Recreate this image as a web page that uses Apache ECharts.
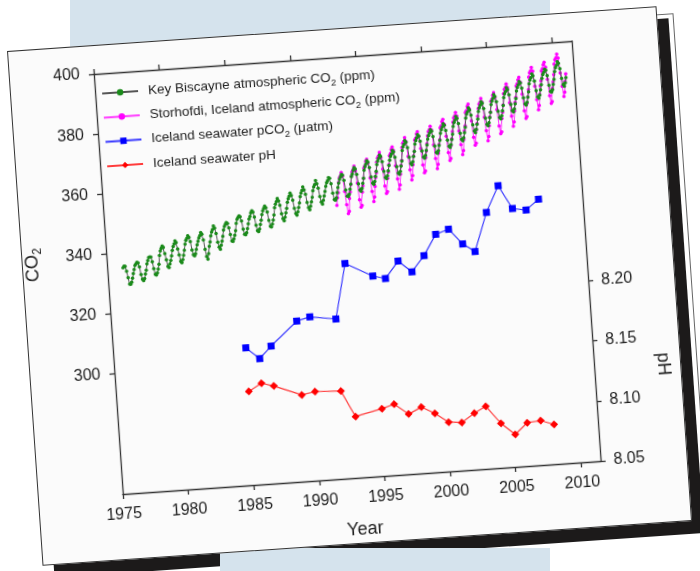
<!DOCTYPE html>
<html><head><meta charset="utf-8">
<script src="https://cdn.jsdelivr.net/npm/echarts@6/dist/echarts.min.js"></script>
<style>
html,body{margin:0;padding:0;background:#fff;}
#stage{position:relative;width:700px;height:571px;overflow:hidden;background:#fff;}
.sheet{position:absolute;width:651px;height:516px;box-sizing:border-box;transform-origin:0 0;transform:rotate(-3.95deg);}
#back{left:24.2px;top:57.5px;background:#fff;border:1px solid #666;}
#shadow{left:18.6px;top:62.9px;background:#1c1a1a;}
.blue{position:absolute;background:#d5e3ed;}
#card{left:6.7px;top:50.7px;background:#fbfbfb;border:1px solid #333;}
#chart{position:absolute;left:0;top:0;width:649px;height:514px;}
</style></head>
<body><div id="stage">
<div id="back" class="sheet"></div>
<div id="shadow" class="sheet"></div>
<div class="blue" style="left:70px;top:0;width:480px;height:110px"></div>
<div class="blue" style="left:220px;top:548px;width:330px;height:23px"></div>
<div id="card" class="sheet"><div id="chart"></div></div>
</div>
<script>
// ---- data ----
const seriesNames = [
  'Key Biscayne atmospheric CO2 (ppm)',
  'Storhofdi, Iceland atmospheric CO2 (ppm)',
  'Iceland seawater pCO2 (\u03bcatm)',
  'Iceland seawater pH'
];
const xTickValues = [1975, 1980, 1985, 1990, 1995, 2000, 2005, 2010];
const co2TickValues = [300, 320, 340, 360, 380, 400];
const phTickValues = [8.05, 8.10, 8.15, 8.20];

// Key Biscayne monthly CO2, first value = March 1976
const kbFirstMonth = [1976, 3];
const kbCO2 = [
  335.1, 335.6, 335.5, 333.8, 331.7, 329.5, 329.4, 330.1, 331.4, 332.9,
  334.2, 335.6, 336.1, 336.6, 336.3, 335.0, 332.4, 330.8, 330.3, 331.0, 332.5, 333.7,
  335.8, 336.9, 337.9, 338.1, 338.0, 336.4, 334.1, 332.2, 331.9, 332.6, 333.8, 335.4,
  338.3, 339.8, 340.6, 341.4, 340.9, 338.8, 336.7, 334.5, 334.1, 335.2, 336.4, 337.9,
  339.7, 341.0, 341.8, 342.8, 342.2, 340.1, 338.1, 335.9, 335.4, 336.4, 337.8, 339.5,
  341.5, 342.7, 343.4, 344.2, 343.6, 342.2, 339.4, 337.8, 337.4, 338.1, 339.5, 341.0,
  342.1, 343.2, 344.0, 345.0, 344.4, 342.5, 339.3, 336.9, 336.0, 337.8, 340.2, 341.6,
  343.6, 344.9, 345.7, 346.9, 346.1, 344.3, 341.4, 339.7, 339.0, 340.3, 341.6, 343.2,
  345.3, 346.5, 347.1, 347.7, 347.4, 345.9, 343.6, 341.5, 341.3, 342.1, 343.3, 344.8,
  347.2, 348.5, 349.1, 349.6, 349.3, 347.9, 345.1, 343.4, 343.2, 343.9, 345.2, 346.8,
  348.4, 349.2, 350.4, 351.0, 350.5, 348.9, 346.1, 344.3, 344.0, 344.8, 346.3, 347.7,
  349.5, 350.8, 351.5, 352.3, 351.7, 350.3, 347.5, 345.5, 345.2, 346.1, 347.5, 349.1,
  351.5, 352.7, 353.5, 354.5, 353.7, 352.2, 349.4, 347.7, 347.0, 348.1, 349.5, 351.0,
  353.0, 354.2, 355.0, 356.0, 355.2, 353.6, 350.9, 349.1, 348.5, 349.6, 351.0, 352.5,
  354.6, 355.8, 356.6, 357.8, 356.8, 355.3, 352.5, 350.8, 350.0, 351.2, 352.6, 354.1,
  356.3, 357.5, 358.3, 359.6, 358.5, 357.0, 354.2, 352.4, 351.6, 352.9, 354.3, 355.8,
  357.4, 358.6, 359.3, 360.3, 360.0, 358.2, 355.0, 352.9, 352.6, 353.4, 355.1, 356.8,
  358.2, 359.4, 360.2, 361.0, 360.8, 359.0, 355.8, 353.7, 353.5, 354.3, 355.9, 357.6,
  360.1, 360.9, 362.1, 363.0, 362.5, 360.7, 357.5, 355.4, 355.0, 355.9, 357.6, 359.3,
  361.9, 363.1, 363.9, 365.0, 364.5, 362.7, 359.5, 357.4, 357.0, 357.9, 359.6, 361.3,
  363.5, 364.7, 365.5, 366.6, 366.1, 364.3, 361.1, 359.0, 358.6, 359.5, 361.2, 362.9,
  364.7, 365.9, 366.7, 367.8, 367.3, 365.5, 362.3, 360.2, 359.8, 360.7, 362.4, 364.1,
  367.6, 368.8, 369.6, 370.8, 370.2, 368.4, 365.2, 363.1, 362.6, 363.6, 365.3, 367.0,
  369.4, 370.6, 371.4, 372.5, 372.0, 370.2, 367.0, 364.9, 364.5, 365.4, 367.1, 368.8,
  370.7, 371.9, 372.7, 373.8, 373.3, 371.5, 368.3, 366.2, 365.8, 366.7, 368.4, 370.1,
  372.4, 373.6, 374.4, 375.5, 375.0, 373.2, 370.0, 367.9, 367.5, 368.4, 370.1, 371.8,
  374.4, 375.6, 376.4, 377.6, 377.0, 375.2, 372.0, 369.9, 369.4, 370.4, 372.1, 373.8,
  376.9, 378.1, 378.9, 380.2, 379.5, 377.7, 374.5, 372.4, 371.8, 372.9, 374.6, 376.3,
  378.8, 380.0, 380.8, 382.0, 381.4, 379.6, 376.4, 374.3, 373.8, 374.8, 376.5, 378.2,
  380.8, 382.0, 382.8, 384.0, 383.4, 381.6, 378.4, 376.3, 375.8, 376.8, 378.5, 380.2,
  382.8, 384.0, 384.8, 386.0, 385.4, 383.6, 380.4, 378.3, 377.8, 378.8, 380.5, 382.2,
  384.7, 385.9, 386.7, 387.8, 387.3, 385.5, 382.3, 380.2, 379.8, 380.7, 382.4, 384.1,
  386.8, 388.0, 388.8, 390.0, 389.4, 387.6, 384.4, 382.3, 381.8, 382.8, 384.5, 386.2,
  388.3, 389.5, 390.3, 391.3, 390.9, 389.1, 385.9, 383.8, 383.5, 384.3, 386.0, 387.7,
  390.3, 391.5, 392.3, 393.5, 392.9, 391.1, 387.9, 385.8, 385.2, 386.3, 388.0
];

// Storhofdi monthly CO2, first value = October 1992
const shFirstMonth = [1992, 10];
const shCO2 = [
  350.9, 353.4, 355.0,
  358.4, 359.9, 360.5, 361.7, 360.4, 355.3, 350.9, 347.9, 348.6, 352.9, 355.0, 357.4,
  360.2, 361.7, 362.3, 363.5, 361.8, 357.8, 352.2, 349.7, 350.3, 354.7, 356.8, 359.2,
  362.7, 363.3, 364.8, 365.5, 364.2, 359.2, 354.7, 351.3, 352.8, 356.3, 359.2, 360.8,
  364.3, 365.7, 366.3, 367.5, 365.7, 361.8, 356.2, 353.7, 354.3, 358.7, 360.8, 363.2,
  366.2, 366.8, 368.2, 369.0, 367.8, 362.7, 358.3, 354.8, 356.2, 359.8, 362.7, 364.3,
  368.6, 370.0, 370.6, 371.8, 370.5, 365.5, 361.0, 357.6, 359.0, 362.6, 365.5, 367.1,
  370.7, 371.3, 372.7, 373.5, 371.8, 367.8, 362.3, 359.7, 360.3, 364.7, 366.8, 369.2,
  371.8, 373.2, 373.8, 375.0, 373.7, 368.7, 364.2, 360.8, 362.2, 365.8, 368.7, 370.3,
  374.2, 374.8, 376.2, 377.0, 375.3, 371.3, 365.8, 363.2, 363.8, 368.2, 370.3, 372.7,
  375.8, 377.2, 377.8, 379.0, 377.7, 372.7, 368.2, 364.8, 366.2, 369.8, 372.7, 374.3,
  378.7, 379.3, 380.7, 381.5, 379.8, 375.8, 370.3, 367.7, 368.3, 372.7, 374.8, 377.2,
  379.8, 381.2, 381.8, 383.0, 381.7, 376.7, 372.2, 368.8, 370.2, 373.8, 376.7, 378.3,
  381.9, 382.5, 383.9, 384.7, 383.0, 379.0, 373.5, 370.9, 371.5, 375.9, 378.0, 380.4,
  384.1, 385.5, 386.1, 387.3, 386.0, 381.0, 376.5, 373.1, 374.5, 378.1, 381.0, 382.6,
  386.4, 387.0, 388.4, 389.2, 387.5, 383.5, 378.0, 375.4, 376.0, 380.4, 382.5, 384.9,
  389.0, 390.4, 391.0, 392.2, 390.9, 385.9, 381.4, 378.0, 379.4, 383.0, 385.9, 387.5,
  390.8, 391.4, 392.8, 393.6, 391.9, 387.9, 382.4, 379.8, 380.4, 384.8, 386.9, 389.3,
  392.8, 394.2, 394.8, 396.0, 394.7, 389.7, 385.2, 381.8, 383.2, 386.8, 389.3
];

// Iceland Sea winter sampling
const seaYears = [1985.12, 1986.12, 1987.05, 1989.13, 1990.15, 1992.12, 1993.10, 1995.15, 1996.10, 1997.15, 1998.15, 1999.15, 2000.15, 2001.15, 2002.15, 2003.05, 2004.12, 2005.15, 2006.12, 2007.15, 2008.15];
const seaPCO2 = [305.7, 301.8, 305.7, 313.4, 314.5, 313.2, 331.4, 326.6, 325.5, 331.0, 327.1, 332.2, 339.0, 340.4, 335.2, 332.4, 345.1, 353.7, 345.8, 345.0, 348.3];
const seaPH = [8.128, 8.134, 8.131, 8.122, 8.124, 8.123, 8.101, 8.106, 8.109, 8.100, 8.105, 8.099, 8.091, 8.090, 8.097, 8.102, 8.087, 8.077, 8.086, 8.087, 8.083];

// ---- build ----
function monthly(first, values) {
  return values.map((v, i) => [first[0] + (first[1] - 1 + i + 0.5) / 12, v]);
}
function pairs(xs, ys) { return xs.map((x, i) => [x, ys[i]]); }

const FONT = "'Liberation Sans', Arial, Helvetica, sans-serif";
const TXT = '#1e1e1e';
const AX = '#333';
const chart = echarts.init(document.getElementById('chart'));

const axisCommon = {
  splitLine: { show: false },
  axisLine: { show: true, onZero: false, lineStyle: { color: AX, width: 1.3 } },
  axisTick: { show: true, inside: false, length: 5, lineStyle: { color: AX, width: 1.3 } }
};

chart.setOption({
  animation: false,
  backgroundColor: 'transparent',
  grid: { left: 84, top: 28, width: 479, height: 421, containLabel: false, outerBoundsMode: 'none' },
  legend: {
    orient: 'vertical', left: 90, top: 38, padding: 0,
    itemWidth: 36, itemHeight: 8, itemGap: 4.3,
    selectedMode: false,
    data: seriesNames,
    formatter: n => n.replace('CO2', 'CO{sub|2}'),
    textStyle: {
      fontFamily: FONT, fontSize: 13.5, color: TXT, lineHeight: 20,
      padding: [0, 0, 0, 5],
      rich: { sub: { fontFamily: FONT, fontSize: 9.5, lineHeight: 10, color: TXT, verticalAlign: 'bottom' } }
    }
  },
  xAxis: [
    Object.assign({}, axisCommon, {
      type: 'value', position: 'bottom', min: 1975, max: 2011.5, interval: 5,
      axisTick: Object.assign({}, axisCommon.axisTick, { customValues: xTickValues }),
      axisLabel: { customValues: xTickValues, formatter: v => String(v), margin: 13,
        fontFamily: FONT, fontSize: 16, color: TXT },
      name: 'Year', nameLocation: 'middle', nameGap: 43,
      nameTextStyle: { fontFamily: FONT, fontSize: 18, color: TXT }
    }),
    Object.assign({}, axisCommon, {
      type: 'value', position: 'top', min: 1975, max: 2011.5, interval: 5,
      axisTick: Object.assign({}, axisCommon.axisTick, { customValues: xTickValues }),
      axisLabel: { show: false }
    })
  ],
  yAxis: [
    Object.assign({}, axisCommon, {
      type: 'value', position: 'left', min: 260, max: 400, interval: 20,
      axisTick: Object.assign({}, axisCommon.axisTick, { customValues: co2TickValues }),
      axisLabel: { customValues: co2TickValues, margin: 14, fontFamily: FONT, fontSize: 16, color: TXT },
      name: 'CO{sub|2}', nameLocation: 'middle', nameRotate: 90, nameGap: 62,
      nameTextStyle: { fontFamily: FONT, fontSize: 18, color: TXT, lineHeight: 24, padding: [0, 0, 0, 48],
        rich: { sub: { fontFamily: FONT, fontSize: 12, lineHeight: 12, color: TXT, verticalAlign: 'bottom' } } }
    }),
    Object.assign({}, axisCommon, {
      type: 'value', position: 'right', min: 8.05, max: 8.40, interval: 0.05,
      axisTick: Object.assign({}, axisCommon.axisTick, { customValues: phTickValues }),
      axisLabel: { customValues: phTickValues, formatter: v => v.toFixed(2), margin: 13,
        fontFamily: FONT, fontSize: 16, color: TXT },
      name: 'pH', nameLocation: 'middle', nameRotate: -90, nameGap: 60,
      nameTextStyle: { fontFamily: FONT, fontSize: 18, color: TXT, padding: [0, 0, 0, 236] }
    })
  ],
  series: [
    {
      name: seriesNames[1], type: 'line', xAxisIndex: 0, yAxisIndex: 0,
      data: monthly(shFirstMonth, shCO2),
      symbol: 'circle', symbolSize: 3.5, showAllSymbol: true,
      lineStyle: { color: '#ff3cff', width: 1.1 }, itemStyle: { color: '#ff00ff' }, z: 2
    },
    {
      name: seriesNames[0], type: 'line', xAxisIndex: 0, yAxisIndex: 0,
      data: monthly(kbFirstMonth, kbCO2),
      symbol: 'circle', symbolSize: 3.5, showAllSymbol: true,
      lineStyle: { color: '#555', width: 1 }, itemStyle: { color: '#1a8a1a' }, z: 3
    },
    {
      name: seriesNames[2], type: 'line', xAxisIndex: 0, yAxisIndex: 0,
      data: pairs(seaYears, seaPCO2),
      symbol: 'rect', symbolSize: 7,
      lineStyle: { color: '#3c3cff', width: 1.2 }, itemStyle: { color: '#0000ff' }, z: 4
    },
    {
      name: seriesNames[3], type: 'line', xAxisIndex: 0, yAxisIndex: 1,
      data: pairs(seaYears, seaPH),
      symbol: 'diamond', symbolSize: 8,
      lineStyle: { color: '#ff3c3c', width: 1.2 }, itemStyle: { color: '#ff0000' }, z: 4
    }
  ]
});
</script>
</body></html>
